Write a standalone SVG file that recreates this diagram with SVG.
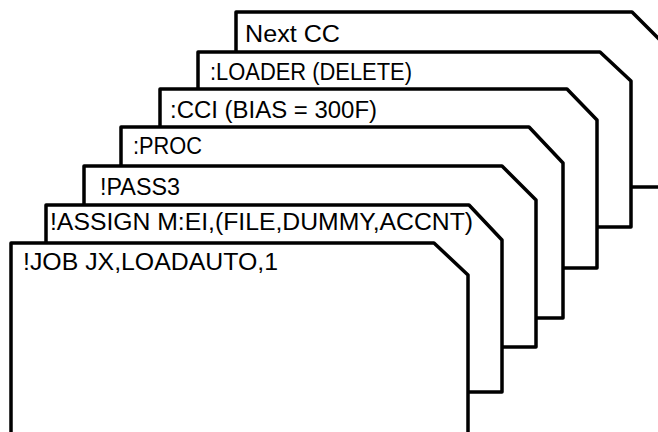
<svg xmlns="http://www.w3.org/2000/svg" width="658" height="432" viewBox="0 0 658 432">
<style>
.card{fill:#fff;stroke:#000;stroke-width:3.5;stroke-linejoin:round}
.t{font-family:"Liberation Sans",Arial,sans-serif;font-size:23px;fill:#000}
</style>
<rect width="658" height="432" fill="#fff"/>
<g id="card-next-cc">
<path class="card" d="M236,440 V12 H632 L660,40 V187 H236"/>
<text class="t" x="245" y="42" textLength="95" lengthAdjust="spacingAndGlyphs">Next CC</text>
</g>
<g id="card-loader">
<path class="card" d="M198,440 V52 H600 L631,81 V227 H198"/>
<text class="t" x="210" y="80" textLength="202" lengthAdjust="spacingAndGlyphs">:LOADER (DELETE)</text>
</g>
<g id="card-cci">
<path class="card" d="M160,440 V89 H567 L597,120 V268 H160"/>
<text class="t" x="170" y="118" textLength="207" lengthAdjust="spacingAndGlyphs">:CCI (BIAS = 300F)</text>
</g>
<g id="card-proc">
<path class="card" d="M121,440 V127 H529 L563,163 V318 H121"/>
<text class="t" x="133" y="154" textLength="69" lengthAdjust="spacingAndGlyphs">:PROC</text>
</g>
<g id="card-pass3">
<path class="card" d="M84,440 V166 H502 L536,200 V347 H84"/>
<text class="t" x="100" y="195" textLength="80" lengthAdjust="spacingAndGlyphs">!PASS3</text>
</g>
<g id="card-assign">
<path class="card" d="M46,440 V205 H469 L502,240 V392 H46"/>
<text class="t" x="50" y="230" textLength="423" lengthAdjust="spacingAndGlyphs">!ASSIGN M:EI,(FILE,DUMMY,ACCNT)</text>
</g>
<g id="card-job">
<path class="card" d="M11,445 V243 H434 L468,275 V445 Z"/>
<text class="t" x="23" y="270" font-size="25" textLength="255" lengthAdjust="spacingAndGlyphs">!JOB JX,LOADAUTO,1</text>
</g>
<g id="connectors"/>
</svg>
